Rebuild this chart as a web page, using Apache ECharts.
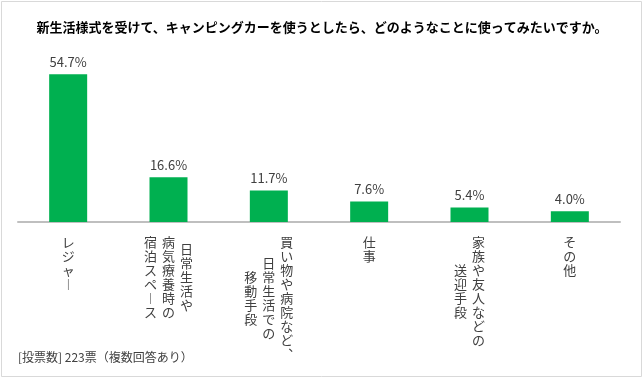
<!DOCTYPE html>
<html>
<head>
<meta charset="utf-8">
<script src="https://cdn.jsdelivr.net/npm/echarts@6/dist/echarts.min.js"></script>
<style>html,body{margin:0;padding:0;background:#fff;}#c{width:644px;height:379px;}</style>
</head>
<body>
<div id="c"></div>
<script>
const titleText = '新生活様式を受けて、キャンピングカーを使うとしたら、どのようなことに使ってみたいですか。';
const footnote = '[投票数] 223票（複数回答あり）';
const categories = ['レジャー', '日常生活や病気療養時の宿泊スペース', '買い物や病院など、日常生活での移動手段', '仕事', '家族や友人などの送迎手段', 'その他'];
const values = [54.7, 16.6, 11.7, 7.6, 5.4, 4.0];
// vertical label columns, first column is the rightmost (Japanese vertical writing)
const labelColumns = [
  ['レジャー'],
  ['日常生活や', '病気療養時の', '宿泊スペース'],
  ['買い物や病院など、', '日常生活での', '移動手段'],
  ['仕事'],
  ['家族や友人などの', '送迎手段'],
  ['その他']
];

const FONT = '"Noto Sans CJK JP", "Noto Sans", sans-serif';
const COL_GAP = 18, CHAR_H = 14, TOP_GAP = 13;
const verticalMap = {'ー': '︱', '、': '︑', '。': '︒'};

const chart = echarts.init(document.getElementById('c'), null, {renderer: 'canvas'});
chart.setOption({
  animation: false,
  backgroundColor: '#fff',
  title: {
    text: titleText, left: 'center', top: 16,
    textStyle: {fontFamily: FONT, fontSize: 13, fontWeight: 'bold', color: '#000'}
  },
  graphic: [
    {type: 'rect', shape: {x: 1.5, y: 1.5, width: 640, height: 375}, style: {fill: 'none', stroke: '#d9d9d9', lineWidth: 1}, silent: true},
    {type: 'text', left: 18, top: 351, style: {text: footnote, font: '12px ' + FONT, fill: '#404040'}}
  ],
  grid: {left: 18, right: 24, top: 60, bottom: 157, outerBoundsMode: 'none'},
  xAxis: {
    type: 'category', data: categories,
    axisLine: {lineStyle: {color: '#bfbfbf', width: 2}},
    axisTick: {show: false}, axisLabel: {show: false}
  },
  yAxis: {type: 'value', min: 0, max: 60, show: false, splitLine: {show: false}},
  series: [
    {
      type: 'bar', data: values, barWidth: 38,
      itemStyle: {color: '#00b050'},
      label: {show: true, position: 'top', distance: 6, fontFamily: FONT, fontSize: 13, color: '#404040',
        formatter: p => p.value.toFixed(1) + '%'}
    },
    {
      type: 'custom', clip: false, silent: true,
      data: categories.map((c, i) => [i, 0]),
      renderItem: (params, api) => {
        const i = api.value(0);
        const p = api.coord([i, 0]);
        const cols = labelColumns[i];
        const lens = cols.map(c => [...c].length);
        const maxLen = Math.max(...lens);
        const children = cols.map((col, j) => {
          const chars = [...col].map(ch => verticalMap[ch] || ch);
          return {
            type: 'text',
            style: {
              text: chars.join('\n'),
              x: p[0] + ((cols.length - 1) / 2 - j) * COL_GAP,
              y: p[1] + TOP_GAP + (maxLen - chars.length) / 2 * CHAR_H,
              align: 'center', verticalAlign: 'top',
              lineHeight: CHAR_H, font: '13px ' + FONT, fill: '#404040'
            }
          };
        });
        return {type: 'group', children};
      }
    }
  ]
});
</script>
</body>
</html>
